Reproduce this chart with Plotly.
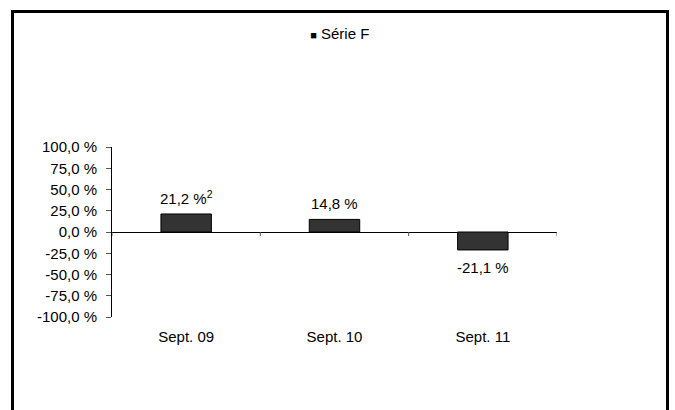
import plotly.graph_objects as go

categories = ["Sept. 09", "Sept. 10", "Sept. 11"]
values = [21.2, 14.8, -21.1]
value_labels = ["21,2 %<sup>2</sup>", "14,8 %", "-21,1 %"]
series_name = "<span style='font-size:11px'>■</span> Série F"
tick_values = [100, 75, 50, 25, 0, -25, -50, -75, -100]
tick_labels = ["100,0 %", "75,0 %", "50,0 %", "25,0 %", "0,0 %",
               "-25,0 %", "-50,0 %", "-75,0 %", "-100,0 %"]

FONT = "Liberation Sans, Arial, sans-serif"
FS = 15
BAR_COLOR = "#333333"

fig = go.Figure()
fig.add_trace(go.Bar(
    x=categories, y=values, width=0.34,
    marker=dict(color=BAR_COLOR, line=dict(color="black", width=1)),
    showlegend=False, hoverinfo="skip",
))
# legend entry: the small square is part of the label text, as in the reference
fig.add_trace(go.Scatter(
    x=[None], y=[None], mode="markers", name=series_name,
    marker=dict(symbol="square", size=1, color="rgba(0,0,0,0)"),
    showlegend=True,
))

for c, v, t in zip(categories, values, value_labels):
    fig.add_annotation(
        x=c, y=v, text=t, showarrow=False,
        yanchor="bottom" if v >= 0 else "top",
        yshift=5 if v >= 0 else -7,
        font=dict(family=FONT, size=FS, color="#000"),
    )

# category boundary tick marks on the zero line
for b in [-0.5, 0.5, 1.5, 2.5]:
    fig.add_shape(type="line", xref="x", yref="y", x0=b, x1=b,
                  ysizemode="pixel", yanchor=0, y0=0, y1=-4,
                  line=dict(color="#555", width=1))

# outer frame
fig.add_shape(type="rect", xref="paper", yref="paper",
              x0=(12.5 - 112) / 445, x1=(667.5 - 112) / 445,
              y0=(317 - 430) / 170, y1=(317 - 11.5) / 170,
              line=dict(color="black", width=3), fillcolor="rgba(0,0,0,0)",
              layer="below")

fig.update_layout(
    width=675, height=410,
    margin=dict(l=112, r=118, t=147, b=93),
    paper_bgcolor="white", plot_bgcolor="white",
    font=dict(family=FONT, size=FS, color="#000"),
    bargap=0.66,
    legend=dict(orientation="h", xref="container", yref="container",
                x=0.478, xanchor="center", y=1 - 33 / 410, yanchor="middle",
                font=dict(size=FS), itemwidth=30,
                bgcolor="rgba(0,0,0,0)"),
    xaxis=dict(
        type="category", range=[-0.5, 2.5],
        showline=False, showgrid=False, zeroline=False,
        ticks="", ticklabelstandoff=9,
        tickfont=dict(size=FS),
    ),
    yaxis=dict(
        range=[-100, 100], tickvals=tick_values, ticktext=tick_labels,
        showgrid=False, zeroline=True, zerolinecolor="black", zerolinewidth=1,
        showline=True, linecolor="black", linewidth=1,
        ticks="outside", ticklen=5, tickcolor="#555",
        ticklabelstandoff=6,
        tickfont=dict(size=FS),
    ),
)

fig.write_html("out.html")
